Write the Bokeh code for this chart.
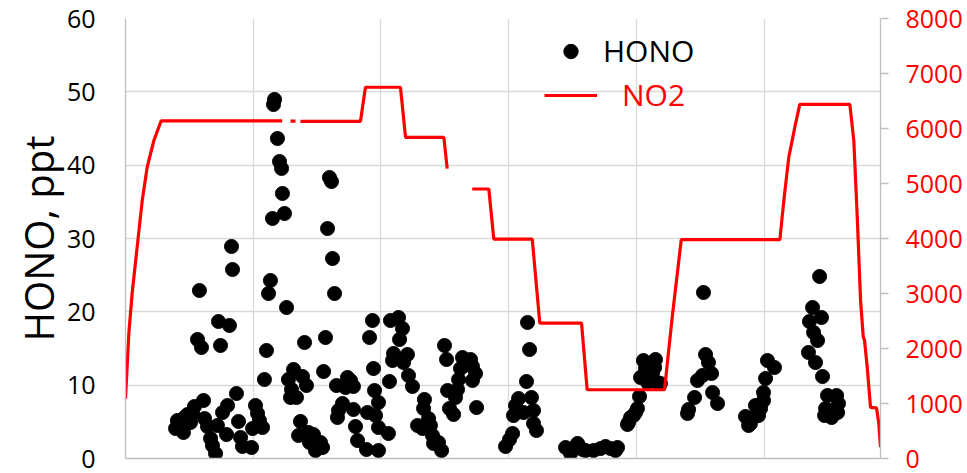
import math
from bokeh.plotting import figure
from bokeh.models import Range1d, LinearAxis, FixedTicker, Legend, LegendItem
from bokeh.embed import file_html
from bokeh.resources import INLINE

nan = float("nan")

# HONO measurements (elapsed time in h, ppt)
hono_time = [
    0.392, 0.407, 0.431, 0.454, 0.462, 0.486, 0.509, 0.525, 0.540, 0.579, 0.564, 0.595, 0.611, 0.619, 0.642,
    0.666, 0.681, 0.705, 0.720, 0.728, 0.744, 0.760, 0.791, 0.799, 0.814, 0.830, 0.838, 0.869, 0.885, 0.901,
    0.916, 0.987, 0.995, 1.018, 1.034, 1.049, 1.073,
    1.088, 1.104, 1.120, 1.135, 1.151, 1.159, 1.167, 1.190, 1.206, 1.222, 1.229, 1.245, 1.261, 1.276, 1.300,
    1.292, 1.316, 1.339, 1.370, 1.355, 1.386, 1.402, 1.417, 1.433, 1.441, 1.472, 1.488, 1.527, 1.543, 1.551,
    1.566, 1.582, 1.597, 1.613, 1.621, 1.637, 1.652, 1.668, 1.660, 1.699, 1.723, 1.738, 1.762, 1.785, 1.785,
    1.801, 1.817, 1.887, 1.895, 1.911, 1.934, 1.942, 1.950, 1.958, 1.981, 1.981,
    1.981, 2.059, 2.067, 2.075, 2.138, 2.169, 2.146, 2.099, 2.091, 2.208, 2.177, 2.216, 2.247, 2.287, 2.326,
    2.341, 2.334, 2.373, 2.388, 2.404, 2.412, 2.451, 2.475, 2.498, 2.514, 2.522, 2.537, 2.569, 2.584, 2.600,
    2.608, 2.623, 2.639, 2.655, 2.702, 2.717, 2.741, 2.717, 2.749,
    2.976, 3.007, 3.031, 3.038, 3.054, 3.078, 3.117, 3.140, 3.148, 3.164, 3.179, 3.195, 3.195, 3.218, 3.446,
    3.485, 3.508, 3.540, 3.579, 3.602, 3.665, 3.720, 3.759, 3.798, 3.837, 3.853,
    3.931, 3.939, 3.955, 3.978, 3.994, 4.009, 4.025, 4.033, 4.056, 4.072, 4.088, 4.127, 4.143, 4.150, 4.166,
    4.189, 4.401, 4.409, 4.456, 4.479, 4.518, 4.526, 4.542, 4.565, 4.589, 4.597, 4.636,
    4.855, 4.879, 4.894, 4.918, 4.933, 4.957, 4.973, 4.996, 4.996, 5.012, 5.027, 5.082, 5.348, 5.356, 5.380,
    5.388, 5.403, 5.419, 5.435, 5.450, 5.458, 5.474, 5.482, 5.497, 5.529, 5.536, 5.568, 5.576, 5.583,
]
hono_ppt = [
    4.09, 5.18, 4.64, 3.55, 5.59, 6.00, 4.91, 6.14, 7.09, 22.91, 16.23, 15.14, 7.91, 5.45, 4.36,
    2.73, 1.77, 0.68, 4.50, 18.68, 15.41, 6.27, 3.27, 7.23, 18.14, 28.91, 25.77, 8.86, 5.05, 2.86,
    1.64, 1.50, 4.09, 7.23, 6.14, 5.18, 4.23,
    10.77, 14.73, 22.50, 24.27, 32.73, 48.27, 48.96, 43.64, 40.50, 39.55, 36.14, 33.41, 20.59, 10.77, 9.41,
    8.32, 12.14, 8.32, 5.05, 3.14, 11.18, 15.82, 9.95, 3.55, 2.18, 3.27, 1.09, 2.18, 1.50, 11.86,
    16.50, 31.36, 38.32, 37.77, 27.27, 22.50, 9.95, 6.55, 5.59, 7.50, 9.68, 11.05, 10.64, 9.82, 6.68,
    4.36, 2.45, 1.23, 6.27, 16.50, 18.82, 12.27, 9.27, 5.86, 4.23, 1.09,
    7.64, 3.41, 10.50, 18.82, 19.23, 17.73, 16.23, 14.32, 13.36, 14.18, 13.09, 11.32, 9.82, 4.50, 4.09,
    8.05, 6.82, 5.45, 4.50, 3.14, 2.05, 2.18, 1.09, 15.41, 13.50, 9.27, 6.82, 6.00, 8.32, 9.41,
    10.77, 12.27, 13.77, 12.68, 13.50, 12.55, 11.59, 10.64, 6.95,
    1.64, 2.59, 3.41, 5.86, 7.23, 8.18, 6.27, 10.50, 18.55, 14.86, 8.32, 6.55, 4.77, 3.82, 1.50,
    0.68, 1.36, 2.05, 1.23, 1.09, 1.09, 1.36, 1.64, 1.36, 1.09, 1.50,
    4.64, 4.91, 5.59, 5.86, 6.27, 6.82, 8.45, 11.05, 13.36, 12.27, 10.36, 11.73, 12.41, 13.50, 10.36,
    10.23, 6.14, 6.68, 8.32, 10.64, 11.32, 22.64, 14.18, 13.09, 11.59, 9.00, 7.50,
    5.73, 4.50, 4.77, 5.59, 7.23, 5.86, 6.82, 7.91, 9.00, 10.91, 13.36, 12.41, 14.46, 18.68, 20.59,
    17.18, 13.09, 16.09, 24.82, 19.23, 11.18, 5.86, 6.82, 8.59, 5.59, 6.14, 8.59, 6.27, 7.50,
]

# NO2 (secondary axis), gaps = missing data
no2_time = [0.000, 0.026, 0.052, 0.091, 0.131, 0.170, 0.222, 0.279, 1.227, nan, 1.292, 1.331, nan,
            1.370, 1.840, 1.879, 2.153, 2.193, 2.493, 2.519, nan, 2.715, 2.845, 2.884, 3.185, 3.244,
            3.571, 3.615, 4.221, 4.281, 4.352, 5.124, 5.155, 5.194, 5.247, 5.280, 5.672, 5.703, 5.730,
            5.756, 5.777, 5.787, 5.808, 5.834, 5.881, 5.899, 5.912]
no2_value = [1090, 2270, 3000, 3840, 4690, 5300, 5780, 6140, 6140, nan, 6135, 6135, nan,
             6130, 6130, 6750, 6750, 5840, 5840, 5270, nan, 4900, 4900, 3990, 3990, 2460,
             2460, 1250, 1250, 2570, 3980, 3980, 4690, 5480, 6090, 6440, 6440, 5780, 4390,
             2870, 2210, 2150, 1660, 930, 920, 630, 205]

left_ticks = [0, 10, 20, 30, 40, 50, 60]
right_ticks = [0, 1000, 2000, 3000, 4000, 5000, 6000, 7000, 8000]
x_grid_ticks = [0, 1, 2, 3, 4, 5]

FONT = "Open Sans"
GRID = "#d9d9d9"
AXIS = "#bfbfbf"
RED = "#ff0000"

p = figure(width=967, height=473, x_range=Range1d(0, 5.912), y_range=Range1d(0, 60),
           output_backend="svg", toolbar_location=None,
           min_border_left=125, min_border_right=87, min_border_top=18, min_border_bottom=15)
p.outline_line_color = None
p.background_fill_color = "white"
p.border_fill_color = "white"
p.extra_y_ranges = {"no2": Range1d(0, 8000)}

# grids
p.xgrid.ticker = FixedTicker(ticks=x_grid_ticks)
p.ygrid.ticker = FixedTicker(ticks=left_ticks)
p.xgrid.grid_line_color = GRID
p.ygrid.grid_line_color = GRID
p.xgrid.grid_line_width = 1.3
p.ygrid.grid_line_width = 1.3

# bottom axis: line only (no ticks, no labels)
p.xaxis.ticker = FixedTicker(ticks=[])
p.xaxis.major_tick_line_color = None
p.xaxis.minor_tick_line_color = None
p.xaxis.axis_line_color = AXIS
p.xaxis.axis_line_width = 1.3

# left axis
p.yaxis.ticker = FixedTicker(ticks=left_ticks)
p.yaxis.axis_line_color = AXIS
p.yaxis.axis_line_width = 1.3
p.yaxis.major_tick_line_color = None
p.yaxis.minor_tick_line_color = None
p.yaxis.major_tick_out = 0
p.yaxis.major_label_standoff = 30
p.yaxis.major_label_text_font = FONT
p.yaxis.major_label_text_font_size = "25px"
p.yaxis.major_label_text_color = "#000000"
p.yaxis.axis_label = "HONO, ppt"
p.yaxis.axis_label_text_font = FONT
p.yaxis.axis_label_text_font_size = "40px"
p.yaxis.axis_label_text_font_style = "normal"
p.yaxis.axis_label_text_color = "#000000"
p.yaxis.axis_label_standoff = -2

# right axis
ax2 = LinearAxis(y_range_name="no2", ticker=FixedTicker(ticks=right_ticks))
ax2.axis_line_color = AXIS
ax2.axis_line_width = 1.3
ax2.major_tick_line_color = AXIS
ax2.major_tick_line_width = 1.3
ax2.major_tick_out = 8
ax2.major_tick_in = 0
ax2.minor_tick_line_color = None
ax2.major_label_standoff = 17
ax2.major_label_text_font = FONT
ax2.major_label_text_font_size = "25px"
ax2.major_label_text_color = RED
p.add_layout(ax2, "right")

hono_r = p.scatter(hono_time, hono_ppt, size=14, fill_color="black", line_color="black")
no2_r = p.line(no2_time, no2_value, y_range_name="no2", line_color=RED, line_width=3.2)

leg1 = Legend(items=[LegendItem(label="HONO", renderers=[hono_r])],
              location=(419, 387), glyph_width=53, glyph_height=36, label_height=36,
              label_standoff=6, padding=0, margin=0, border_line_color=None,
              background_fill_alpha=0, label_text_font=FONT, label_text_font_size="30px",
              label_text_color="#000000")
leg2 = Legend(items=[LegendItem(label="NO2", renderers=[no2_r])],
              location=(419, 343), glyph_width=53, glyph_height=36, label_height=36,
              label_standoff=25, padding=0, margin=0, border_line_color=None,
              background_fill_alpha=0, label_text_font=FONT, label_text_font_size="30px",
              label_text_color=RED)
p.add_layout(leg1, "center")
p.add_layout(leg2, "center")

open("out.html", "w").write(file_html(p, INLINE))
